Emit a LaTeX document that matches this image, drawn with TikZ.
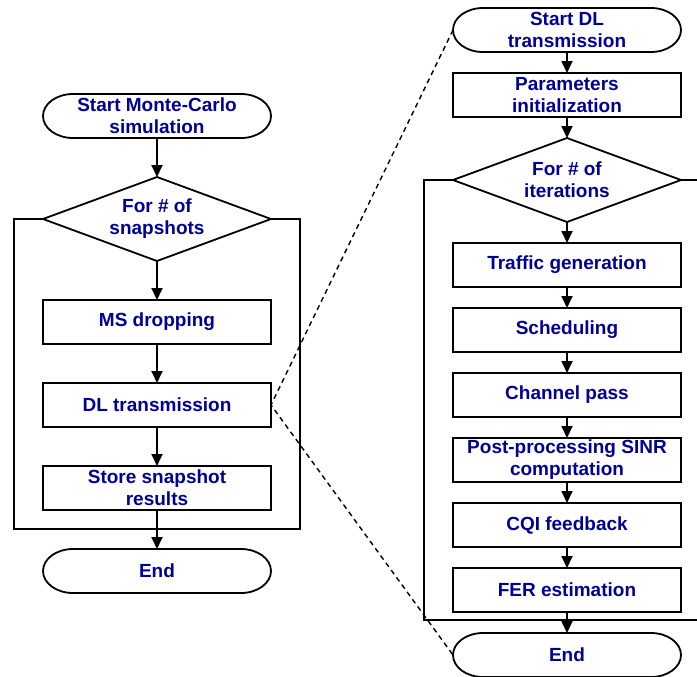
\documentclass[tikz,border=0pt]{standalone}
\usepackage{fontspec}
\setmainfont{Liberation Sans}
\usetikzlibrary{arrows,arrows.meta,shapes.geometric,positioning}
\definecolor{navy}{RGB}{0,0,150}

\begin{document}
\begin{tikzpicture}[x=0.5pt,y=-0.5pt]
\tikzstyle{every node}=[font=\bfseries\fontsize{9.5}{11}\selectfont,text=navy,align=center,draw,line width=0.9pt,outer sep=0pt]
\tikzstyle{proc}=[rectangle,minimum width=114pt,minimum height=22pt,inner sep=1pt]
\tikzstyle{term}=[proc,draw=none]
\tikzstyle{fordia}=[diamond,aspect=2.7,minimum width=114pt,minimum height=42pt,inner sep=0pt]
\tikzstyle{flow}=[-{Triangle[length=6pt,width=5.5pt]},line width=0.9pt]
\tikzstyle{zoomline}=[line width=0.7pt,dash pattern=on 2.5pt off 2pt]

\path[use as bounding box,clip] (0,0) rectangle (697,676);

\node[term] (mc) at (157,116) {Start Monte-Carlo\\simulation};
\node[fordia,below=19.5pt of mc] (snap) {For \# of\\snapshots};
\node[proc,below=19.5pt of snap] (drop) {MS dropping};
\node[proc,below=19.5pt of drop] (dl) {DL transmission};
\node[proc,below=19.5pt of dl] (store) {Store snapshot\\results};
\node[term,below=19.5pt of store] (fin) {End};

\node[term] (sdl) at (567,30) {Start DL\\transmission};
\node[proc,below=10.5pt of sdl] (par) {Parameters\\initialization};
\node[fordia,below=10.5pt of par] (iter) {For \# of\\iterations};
\node[proc,below=10.5pt of iter] (traf) {Traffic generation};
\node[proc,below=10.5pt of traf] (sched) {Scheduling};
\node[proc,below=10.5pt of sched] (chan) {Channel pass};
\node[proc,below=10.5pt of chan] (sinr) {Post-processing SINR\\computation};
\node[proc,below=10.5pt of sinr] (cqi) {CQI feedback};
\node[proc,below=10.5pt of cqi] (fer) {FER estimation};
\node[term,below=10.5pt of fer] (edl) {End};

\foreach \n in {mc,fin,sdl,edl}
  \draw[line width=0.9pt] ([xshift=15pt]\n.north west) -- ([xshift=-15pt]\n.north east)
    .. controls +(16.6,0) and +(0,-12.2) .. (\n.east)
    .. controls +(0,12.2) and +(16.6,0) .. ([xshift=-15pt]\n.south east)
    -- ([xshift=15pt]\n.south west)
    .. controls +(-16.6,0) and +(0,12.2) .. (\n.west)
    .. controls +(0,-12.2) and +(-16.6,0) .. ([xshift=15pt]\n.north west) -- cycle;

\draw[line width=0.9pt] (snap.west) -- ++(-29,0) |- (300,529) |- (snap.east);
\draw[line width=0.9pt] (iter.west) -- ++(-29,0) |- (720,620);
\draw[line width=0.9pt] (iter.east) -- ++(40,0);

\draw[flow] (mc) -- (snap);
\draw[flow] (snap) -- (drop);
\draw[flow] (drop) -- (dl);
\draw[flow] (dl) -- (store);
\draw[flow] (store) -- (fin);

\draw[flow] (sdl) -- (par);
\draw[flow] (par) -- (iter);
\draw[flow] (iter) -- (traf);
\draw[flow] (traf) -- (sched);
\draw[flow] (sched) -- (chan);
\draw[flow] (chan) -- (sinr);
\draw[flow] (sinr) -- (cqi);
\draw[flow] (cqi) -- (fer);
\draw[flow] (fer) -- (edl);

\draw[zoomline] (sdl.west) -- (dl.east) -- (edl.west);
\end{tikzpicture}
\end{document}
